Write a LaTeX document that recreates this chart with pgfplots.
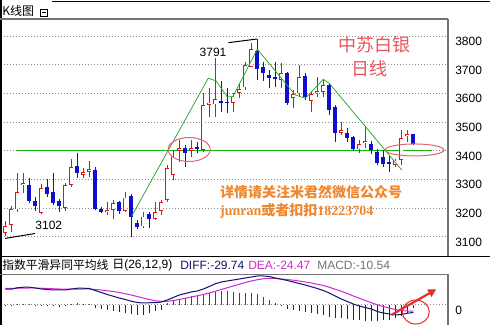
\documentclass[border=0pt]{standalone}
\usepackage{pgfplots}
\pgfplotsset{compat=1.18}
\usepackage{pgfplotstable}
\usepackage{fontspec}
\setmainfont{Liberation Sans}
\newfontfamily\cjk{Noto Sans CJK SC}
\newfontfamily\serifb{Liberation Serif}
\usetikzlibrary{arrows.meta}

\definecolor{cup}{RGB}{225,20,20}
\definecolor{cdn}{RGB}{15,15,205}
\definecolor{zz}{RGB}{40,165,40}
\definecolor{hl}{RGB}{20,180,20}
\definecolor{ann}{RGB}{222,100,118}
\definecolor{orng}{RGB}{240,135,45}
\definecolor{diffc}{RGB}{20,20,110}
\definecolor{deac}{RGB}{210,40,210}
\definecolor{hred}{RGB}{190,20,20}
\definecolor{hblue}{RGB}{25,25,160}
\definecolor{txtred}{RGB}{235,85,95}
\definecolor{arr}{RGB}{230,45,45}

\pgfplotstableread{
n O H L C
1 3113 3157 3102 3139
2 3142 3208 3118 3196
3 3196 3324 3188 3255
4 3281 3322 3252 3289
7 3184 3283 3180 3269
11 3202 3287 3190 3281
12 3281 3370 3275 3343
14 3316 3339 3304 3325
15 3326 3365 3310 3335
18 3186 3223 3177 3193
19 3194 3229 3161 3219
21 3192 3258 3188 3237
24 3137 3188 3130 3171
26 3162 3223 3158 3188
27 3190 3229 3175 3222
28 3229 3351 3223 3339
29 3316 3403 3298 3380
30 3400 3438 3362 3409
32 3400 3438 3380 3409
34 3403 3600 3397 3560
35 3560 3620 3519 3568
36 3562 3722 3519 3580
39 3568 3600 3537 3589
40 3603 3635 3583 3614
41 3621 3711 3612 3699
42 3693 3775 3691 3754
47 3647 3705 3618 3672
49 3583 3612 3548 3598
50 3600 3699 3589 3656
52 3575 3606 3536 3598
53 3600 3656 3589 3607
54 3606 3647 3589 3629
57 3463 3502 3455 3473
60 3405 3438 3391 3424
61 3426 3486 3409 3435
66 3351 3372 3345 3366
67 3368 3472 3351 3444
68 3451 3472 3432 3458
}\upc

\pgfplotstableread{
n O H L C
5 3281 3304 3217 3225
6 3225 3240 3191 3208
8 3273 3301 3240 3248
9 3258 3324 3211 3219
10 3225 3231 3188 3208
13 3347 3392 3304 3322
16 3333 3345 3194 3197
17 3198 3203 3182 3186
20 3223 3225 3180 3192
22 3242 3250 3101 3170
23 3150 3160 3127 3135
25 3180 3188 3130 3162
31 3409 3420 3344 3394
33 3413 3432 3391 3407
37 3572 3644 3536 3567
38 3571 3618 3531 3566
43 3749 3791 3647 3684
44 3693 3711 3645 3670
45 3664 3682 3618 3653
46 3658 3711 3624 3649
48 3670 3676 3560 3565
51 3661 3670 3577 3589
55 3629 3635 3525 3542
56 3554 3560 3432 3463
58 3463 3478 3432 3444
59 3447 3452 3401 3405
62 3424 3435 3389 3403
63 3397 3405 3351 3359
64 3377 3403 3345 3354
65 3362 3382 3327 3354
69 3458 3458 3420 3424
}\dnc

\pgfplotstableread{
n diff dea
1 63 66
2 63 66
3 69 67
4 71 67
5 71 68
6 68 68
7 64 67
8 62 66
9 60 65
10 60 64
11 60 63
12 64 63
13 67 63
14 67 64
15 66 64
16 58 62
17 50 60
18 42 57
19 35 54
20 28 50
21 22 45
22 15 40
23 10 34
24 8 28
25 9 22
26 9 17
27 12 14
28 20 15
29 30 18
30 40 22
31 46 27
32 52 32
33 56 37
34 64 42
35 74 48
36 85 55
37 92 62
38 96 69
39 100 76
40 104 83
41 108 90
42 112 96
43 116 101
44 116 105
45 114 107
46 108 106
47 103 104
48 98 102
49 92 99
50 86 96
51 80 92
52 73 88
53 66 83
54 58 78
55 48 71
56 36 63
57 24 55
58 14 46
59 4 36
60 -4 27
61 -10 18
62 -16 9
63 -26 1
64 -32 -6
65 -36 -12
66 -40 -18
67 -38 -22
68 -33 -24
69 -29.74 -24.47
}\macd

\pgfplotsset{
  panel/.style={
    scale only axis, width=335.25pt,
    xmin=0.283, xmax=74.783,
    axis line style={draw=none},
    xtick=\empty,
    ytick pos=right, yticklabel pos=right,
    major tick length=0pt,
    yticklabel style={anchor=north west, inner sep=0pt, xshift=5.25pt, yshift=-0.5pt, font=\fontsize{9}{10}\selectfont},
    ymajorgrids,
    grid style={black!45, line width=0.75pt, dash pattern=on 0.75pt off 1.5pt},
  },
  wick/.style={draw=none, forget plot, error bars/.cd, y dir=plus, y explicit, error mark=none,
    error bar style={draw=#1, line width=0.75pt}},
  body/.style={draw=none, forget plot, error bars/.cd, y dir=plus, y explicit, error mark=none,
    error bar style={draw=#1, line width=3pt}},
  hollow/.style={draw=none, forget plot, error bars/.cd, y dir=plus, y explicit, error mark=none,
    error bar style={draw=white, line width=1.8pt, shorten <=0.6pt, shorten >=0.6pt}},
}

\begin{document}
\begin{tikzpicture}[x=0.75pt,y=0.75pt]
\fill[white] (0,0) rectangle (490,325);
\useasboundingbox (0,0) rectangle (490,325);

% ---------- main price panel ----------
\begin{axis}[panel, at={(0.75pt,51.75pt)}, anchor=south west, height=177.75pt,
  ymin=3033.7, ymax=3859.2,
  ytick={3100,3200,3300,3400,3500,3600,3700,3800},
  yticklabels={3100,3200,3300,3400,3500,3600,3700,3800}]

\addplot[hl, line width=0.75pt, mark=none] coordinates {(2.9,3400.5) (72.07,3400.5)};

\addplot[wick=cup] table[x=n, y=L, y error plus expr=\thisrow{H}-\thisrow{L}] {\upc};
\addplot[body=cup] table[x=n, y=O, y error plus expr=\thisrow{C}-\thisrow{O}] {\upc};
\addplot[hollow] table[x=n, y=O, y error plus expr=\thisrow{C}-\thisrow{O}] {\upc};

\addplot[wick=cdn] table[x=n, y=L, y error plus expr=\thisrow{H}-\thisrow{L}] {\dnc};
\addplot[body=cdn] table[x=n, y=C, y error plus expr=\thisrow{O}-\thisrow{C}] {\dnc};

\addplot[zz, line width=0.55pt, mark=none] coordinates {
(22.07,3173) (34.83,3653) (36.1,3644) (38,3588) (38.9,3588) (43,3754)
(49.3,3595) (51,3583) (54,3649) (55,3635) (67.07,3333)};

% annotations
\draw[black, line width=0.75pt] (axis cs:38.17,3776.7) -- (axis cs:42.95,3789.5);
\node[font=\fontsize{9}{10}\selectfont, inner sep=0pt] at (axis cs:35.62,3744.3) {3791};
\draw[black, line width=0.75pt] (axis cs:0.95,3095) -- (axis cs:5.95,3112);
\node[font=\fontsize{9}{10}\selectfont, inner sep=0pt] at (axis cs:8.25,3141.7) {3102};

\draw[ann, line width=0.75pt] (axis cs:31.65,3404.7) ellipse [x radius=15.75pt, y radius=9pt];
\draw[ann, line width=0.75pt] (axis cs:69.2,3403) ellipse [x radius=22.1pt, y radius=4.5pt];

\node[text=txtred, font=\cjk\fontsize{13.5}{15}\selectfont, inner sep=0pt] at (axis cs:62.6,3768.7) {中苏白银};
\node[text=txtred, font=\cjk\fontsize{13.5}{15}\selectfont, inner sep=0pt] at (axis cs:61.7,3686.8) {日线};

\node[anchor=west, inner sep=0pt, text=orng, font=\cjk\bfseries\fontsize{10.5}{12}\selectfont] at (axis cs:36.78,3254.9) {详情请关注米君然微信公众号};
\node[anchor=west, inner sep=0pt, text=orng, font=\bfseries\fontsize{10.5}{12}\selectfont] at (axis cs:36.78,3190.5) {{\serifb\bfseries junran}{\cjk\bfseries 或者扣扣}{\serifb\bfseries 18223704}};
\end{axis}

% ---------- MACD panel ----------
\begin{axis}[panel, at={(0.75pt,0pt)}, anchor=south west, height=37.5pt,
  ymin=-80, ymax=120, ytick={0}, yticklabels={0}]
\addplot[ycomb, hred, line width=0.75pt, mark=none] coordinates {
(3,4) (4,5) (5,3) (12,4) (13,6) (14,5) (15,3)
(28,8) (29,16) (30,22) (31,28) (32,34) (33,40) (34,44) (35,49) (36,53) (37,57)
(38,57) (39,53) (40,49) (41,47) (42,49) (43,43) (44,31) (45,20) (46,6)};
\addplot[ycomb, hblue, line width=0.75pt, mark=none] coordinates {
(1,-4) (2,-6) (6,-4) (7,-6) (8,-5) (9,-6) (10,-7) (11,-5)
(16,-12) (17,-16) (18,-20) (19,-26) (20,-30) (21,-34) (22,-38) (23,-40) (24,-40)
(25,-34) (26,-26) (27,-20)
(47,-2) (48,-16) (49,-20) (50,-24) (51,-28) (52,-32) (53,-36) (54,-42) (55,-48)
(56,-52) (57,-54) (58,-58) (59,-60) (60,-62) (61,-64) (62,-66) (63,-64) (64,-62)
(65,-60) (66,-54) (67,-44) (68,-32) (69,-10.54)};
\addplot[deac, line width=0.75pt, mark=none] table[x=n, y=dea] {\macd};
\addplot[diffc, line width=0.75pt, mark=none] table[x=n, y=diff] {\macd};

\draw[arr, line width=0.75pt] (axis cs:69.42,-28) ellipse [x radius=10.1pt, y radius=9pt];
\draw[arr, line width=1.6pt, -{Triangle[length=6pt, width=6pt]}] (axis cs:65.33,-40) -- (axis cs:72.83,62.8);
\end{axis}

% ---------- frame and headers ----------
\draw[black, line width=1.5pt] (0.75,0) -- (0.75,325);
\draw[black, line width=1.2pt] (52,323.5) -- (490,323.5);
\draw[black!55, line width=0.9pt] (0,306) -- (448,306);
\draw[black!55, line width=0.9pt] (448,306) -- (448,69);
\draw[black, line width=1.1pt] (0,68.5) -- (490,68.5);
\draw[black!55, line width=0.9pt] (0,50.5) -- (448,50.5);
\draw[black!55, line width=0.9pt] (448,50.5) -- (448,0);

\node[anchor=west, inner sep=0pt, font=\cjk\fontsize{9}{10}\selectfont] at (2,314) {K线图};
\draw[black, line width=0.7pt] (40,309) rectangle (47,316);
\draw[black, line width=0.7pt] (41.5,312.5) -- (45.5,312.5);

\node[anchor=west, inner sep=0pt, font=\cjk\fontsize{8.85}{10}\selectfont] at (2,59.5) {指数平滑异同平均线};
\node[anchor=west, inner sep=0pt, font=\fontsize{9}{10}\selectfont] at (112,59.5) {{\cjk 日}(26,12,9)};
\node[anchor=west, inner sep=0pt, text=diffc, font=\fontsize{9}{10}\selectfont] at (180,59.5) {DIFF:-29.74};
\node[anchor=west, inner sep=0pt, text=deac, font=\fontsize{9}{10}\selectfont] at (248,59.5) {DEA:-24.47};
\node[anchor=west, inner sep=0pt, text=black!55, font=\fontsize{9}{10}\selectfont] at (317,59.5) {MACD:-10.54};
\end{tikzpicture}
\end{document}
